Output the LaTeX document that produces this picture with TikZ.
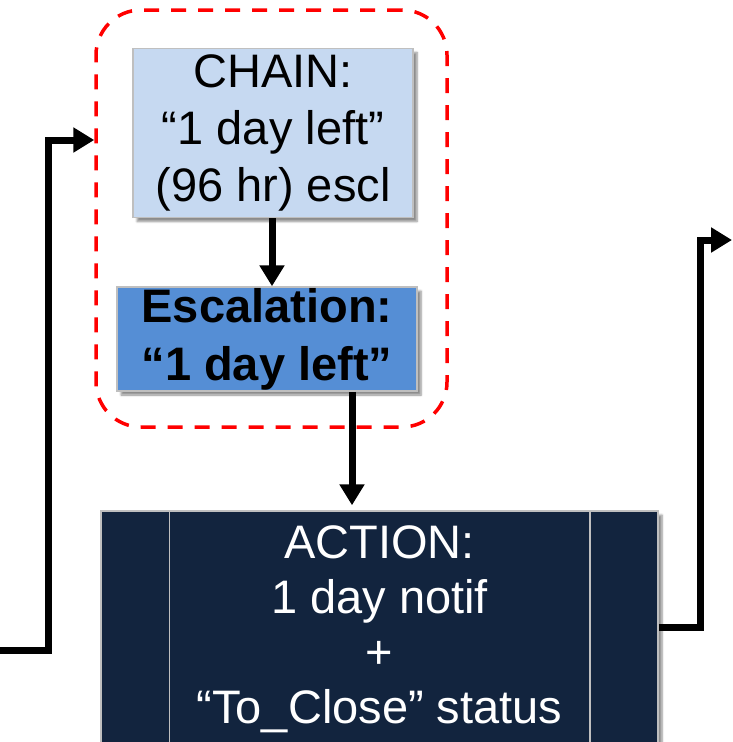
\documentclass[tikz,border=0pt]{standalone}
\usepackage{fontspec}
\setmainfont{Liberation Sans}
\usetikzlibrary{arrows.meta,shadows.blur,calc}
\definecolor{chainfill}{HTML}{C6D9F1}
\definecolor{escfill}{HTML}{558ED5}
\definecolor{actfill}{HTML}{12243E}
\definecolor{boxline}{HTML}{BFBFBF}
\definecolor{grpred}{HTML}{FF0000}
\begin{document}
\begin{tikzpicture}[x=1pt,y=-1pt,
  box/.style={draw=boxline, line width=1.5pt, inner sep=0pt, align=center,
    blur shadow={shadow xshift=4pt, shadow yshift=-4pt, shadow blur steps=6, shadow opacity=45}},
  bigtext/.style={font=\fontsize{47}{57}\selectfont},
  conn/.style={line width=7pt, -{Triangle[length=21pt,width=24pt]}},
  grpbox/.style={draw=grpred, line width=3.5pt, dash pattern=on 15pt off 12pt, rounded corners=45pt, inner sep=0pt}
]
\useasboundingbox (0,0) rectangle (732,742);
% group
\node[grpbox, minimum width=351pt, minimum height=417pt] (grp) at (271.5,218.5) {};
% boxes
\node[box, fill=chainfill, minimum width=280pt, minimum height=169pt, bigtext] (chain) at (273,133)
  {CHAIN:\\“1 day left”\\(96 hr) escl};
\node[box, fill=escfill, minimum width=300pt, minimum height=104pt, font=\fontsize{47}{58}\selectfont\bfseries] (esc) at (267,339)
  {Escalation:\\“1 day left”};
\node[box, fill=actfill, text=white, minimum width=557pt, minimum height=237pt, font=\fontsize{47}{55}\selectfont] (act) at (379.5,629.5)
  {ACTION:\\1 day notif\\+\\“To\_Close” status};
\draw[boxline, line width=1.5pt] ($(act.north west)+(69,0)$) -- ($(act.south west)+(69,0)$);
\draw[boxline, line width=1.5pt] ($(act.north east)+(-69,0)$) -- ($(act.south east)+(-69,0)$);
% connectors
\draw[conn] (chain.south -| 272,0) -- (esc.north -| 272,0);
\draw[conn, shorten >=5pt] (esc.south -| 352,0) -- (act.north -| 352,0);
\coordinate (inL) at (0,650);
\draw[conn] (inL) -| (48,140) -- (grp.west |- 0,140);
\coordinate (outR) at (732,240);
\draw[conn] (act.east |- 0,627) -- (700,627) |- (outR);
\end{tikzpicture}
\end{document}
